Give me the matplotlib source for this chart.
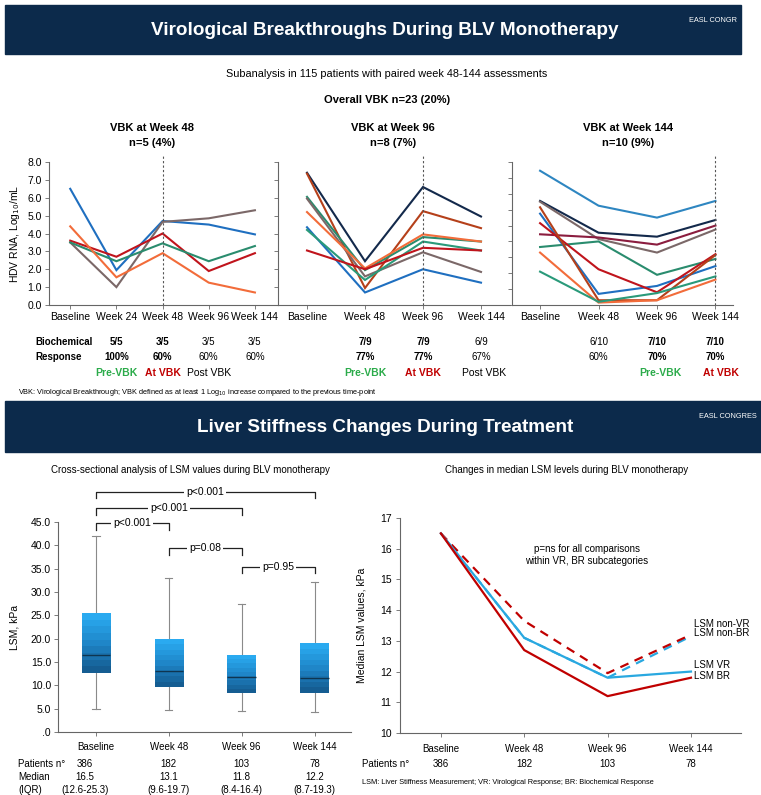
import numpy as np
import matplotlib.pyplot as plt
from matplotlib.patches import Rectangle
from matplotlib.colors import LinearSegmentedColormap
from matplotlib.ticker import FuncFormatter
from matplotlib.transforms import blended_transform_factory

plt.rcParams['font.family'] = ['Liberation Sans', 'DejaVu Sans']

W, H = 761, 795


def fx(px):
    return px / W


def fy(py):
    return 1 - py / H


# ---------------- data: virological breakthroughs ----------------
cats_w48 = ["Baseline", "Week 24", "Week 48", "Week 96", "Week 144"]
w48_blue = [6.5, 1.95, 4.7, 4.5, 3.95]
w48_grey = [3.5, 1.0, 4.65, 4.85, 5.3]
w48_red = [3.6, 2.7, 4.0, 1.9, 2.9]
w48_green = [3.5, 2.45, 3.45, 2.45, 3.3]
w48_orange = [4.4, 1.55, 2.9, 1.25, 0.7]

cats_w96 = ["Baseline", "Week 48", "Week 96", "Week 144"]
w96_navy = [7.4, 2.45, 6.6, 4.95]
w96_brown = [7.35, 0.95, 5.25, 4.3]
w96_green = [6.05, 1.95, 3.8, 3.55]
w96_grey = [5.95, 1.6, 2.95, 1.85]
w96_orange = [5.2, 2.05, 3.95, 3.55]
w96_blue = [4.35, 0.7, 2.0, 1.25]
w96_green2 = [4.2, 1.4, 3.55, 3.05]
w96_red = [3.05, 2.0, 3.2, 3.05]

cats_w144 = ["Baseline", "Week 48", "Week 96", "Week 144"]
w144_lblue = [8.45, 6.25, 5.5, 6.55]
w144_navy = [6.55, 4.55, 4.3, 5.35]
w144_grey = [6.5, 4.15, 3.3, 4.75]
w144_maroon = [4.45, 4.25, 3.8, 5.0]
w144_green = [3.65, 4.0, 1.9, 2.9]
w144_blue = [5.75, 0.7, 1.2, 2.45]
w144_red = [5.15, 2.25, 0.8, 3.2]
w144_brown = [6.15, 0.3, 0.3, 3.15]
w144_orange = [3.3, 0.15, 0.3, 1.6]
w144_green2 = [2.1, 0.2, 0.75, 1.8]

bio_w48 = [("5/5", "100%", True), ("3/5", "60%", True), ("3/5", "60%", False), ("3/5", "60%", False)]
bio_w96 = [("7/9", "77%", True), ("7/9", "77%", True), ("6/9", "67%", False)]
bio_w144 = [("6/10", "60%", False), ("7/10", "70%", True), ("7/10", "70%", True)]

# ---------------- data: liver stiffness ----------------
lsm_cats = ["Baseline", "Week 48", "Week 96", "Week 144"]
lsm_med = [16.5, 13.1, 11.8, 11.5]
lsm_q1 = [12.6, 9.6, 8.4, 8.4]
lsm_q3 = [25.3, 19.7, 16.4, 19.1]
lsm_lo = [5.0, 4.8, 4.6, 4.2]
lsm_hi = [42.0, 33.1, 27.4, 32.1]
patients = ["386", "182", "103", "78"]
median_txt = ["16.5", "13.1", "11.8", "12.2"]
iqr_txt = ["(12.6-25.3)", "(9.6-19.7)", "(8.4-16.4)", "(8.7-19.3)"]

lsm_br = [16.5, 12.7, 11.2, 11.8]
lsm_vr = [16.5, 13.1, 11.8, 12.0]
lsm_nonbr = [16.5, 13.65, 11.95, 13.2]
lsm_nonvr = [16.5, 13.1, 11.8, 13.15]

NAVY = '#0c2a4b'
GREEN_T = '#2bab4a'
RED_T = '#c00000'

fig = plt.figure(figsize=(W / 100, H / 100), dpi=100)

# banners
for (x0, y0, x1, y1, title, logo) in [(5, 5, 741, 54, "Virological Breakthroughs During BLV Monotherapy", "EASL CONGR"),
                                       (5, 401, 761, 452, "Liver Stiffness Changes During Treatment", "EASL CONGRES")]:
    fig.patches.append(Rectangle((fx(x0), fy(y1)), fx(x1 - x0), (y1 - y0) / H,
                                 transform=fig.transFigure, color=NAVY, zorder=0))
    fig.text(fx(385), fy((y0 + y1) / 2 + 1), title, color='white', fontsize=13.6, fontweight='bold',
             ha='center', va='center')
    fig.text(fx(x1 - 4), fy(y0 + 16), logo, color='white', fontsize=5.3, ha='right', va='center')

fig.text(fx(387), fy(74), "Subanalysis in 115 patients with paired week 48-144 assessments",
         fontsize=7.8, ha='center', va='center')
fig.text(fx(387), fy(100), "Overall VBK n=23 (20%)", fontsize=8, fontweight='bold', ha='center', va='center')


def vbk_axes(rect, cats, series, colors, xlim, ylim, vline, labels=False):
    ax = fig.add_axes(rect)
    x = np.arange(len(cats))
    for s, c in zip(series, colors):
        ax.plot(x, s, color=c, lw=1.5, solid_joinstyle='miter')
    ax.axvline(vline, ymin=0, ymax=1.04, color='#555555', lw=0.8, ls=(0, (2, 2)), clip_on=False)
    ax.set_xlim(*xlim)
    ax.set_ylim(*ylim)
    ax.set_xticks(x)
    ax.set_xticklabels(cats, fontsize=7.5)
    ax.set_yticks(np.arange(0, ylim[1] + 0.01, 1))
    if labels:
        ax.set_yticklabels([f"{v:.1f}" for v in np.arange(0, ylim[1] + 0.01, 1)], fontsize=7.5)
    else:
        ax.set_yticklabels([])
    ax.tick_params(axis='both', length=3, width=0.6, color='#666666', pad=2)
    for sp in ['top', 'right']:
        ax.spines[sp].set_visible(False)
    for sp in ['left', 'bottom']:
        ax.spines[sp].set_color('#666666')
        ax.spines[sp].set_linewidth(0.8)
    return ax


ax1 = vbk_axes([fx(49), fy(305), fx(229), 143 / H], cats_w48,
               [w48_blue, w48_grey, w48_red, w48_green, w48_orange],
               ['#1f6fc0', '#7b6868', '#c0141c', '#2a8c6e', '#f26c3a'],
               (-0.46, 4.5), (0, 8), 2, labels=True)
ax1.set_ylabel("HDV RNA, Log$_{10}$/mL", fontsize=7.5, labelpad=4)

ax2 = vbk_axes([fx(278), fy(305), fx(232), 143 / H], cats_w96,
               [w96_navy, w96_brown, w96_green, w96_grey, w96_orange, w96_blue, w96_green2, w96_red],
               ['#13294b', '#b5401a', '#2a8c6e', '#7b6868', '#f26c3a', '#1f6fc0', '#2a9a7a', '#c0141c'],
               (-0.5, 3.5), (0, 8), 2)

ax3 = vbk_axes([fx(512), fy(305), fx(221), 143 / H], cats_w144,
               [w144_lblue, w144_navy, w144_grey, w144_maroon, w144_green, w144_blue, w144_red,
                w144_brown, w144_orange, w144_green2],
               ['#2e86c1', '#13294b', '#7b6868', '#8b1d3f', '#2a8c6e', '#1f6fc0', '#c0141c',
                '#b5401a', '#f26c3a', '#2a9a7a'],
               (-0.48, 3.3), (0, 9), 3)

for cx, t1, t2 in [(152, "VBK at Week 48", "n=5 (4%)"), (393, "VBK at Week 96", "n=8 (7%)"),
                   (628, "VBK at Week 144", "n=10 (9%)")]:
    fig.text(fx(cx), fy(128), t1, fontsize=8, fontweight='bold', ha='center', va='center')
    fig.text(fx(cx), fy(143), t2, fontsize=8, fontweight='bold', ha='center', va='center')

fig.text(fx(35), fy(342), "Biochemical", fontsize=7, fontweight='bold', ha='left', va='center')
fig.text(fx(35), fy(357), "Response", fontsize=7, fontweight='bold', ha='left', va='center')

for ax, bio in [(ax1, bio_w48), (ax2, bio_w96), (ax3, bio_w144)]:
    tr = blended_transform_factory(ax.transData, fig.transFigure)
    for i, (a, b, bold) in enumerate(bio):
        fw = 'bold' if bold else 'normal'
        ax.text(1 + i, fy(342), a, transform=tr, fontsize=7, fontweight=fw, ha='center', va='center')
        ax.text(1 + i, fy(357), b, transform=tr, fontsize=7, fontweight=fw, ha='center', va='center')

for ax, labels in [(ax1, [(1, "Pre-VBK", GREEN_T), (2, "At VBK", RED_T), (3, "Post VBK", 'black')]),
                   (ax2, [(1, "Pre-VBK", GREEN_T), (2, "At VBK", RED_T), (3.05, "Post VBK", 'black')]),
                   (ax3, [(2.05, "Pre-VBK", GREEN_T), (3.1, "At VBK", RED_T)])]:
    tr = blended_transform_factory(ax.transData, fig.transFigure)
    for xv, t, c in labels:
        ax.text(xv, fy(373), t, transform=tr, fontsize=7.5, color=c,
                fontweight='normal' if c == 'black' else 'bold', ha='center', va='center')

fig.text(fx(18), fy(392), "VBK: Virological Breakthrough; VBK defined as at least 1 Log$_{10}$ increase "
         "compared to the previous time-point", fontsize=5.3, ha='left', va='center')

# ---------------- box plot ----------------
fig.text(fx(190), fy(470), "Cross-sectional analysis of LSM values during BLV monotherapy",
         fontsize=7, ha='center', va='center')
axb = fig.add_axes([fx(58), fy(732), fx(293), 210 / H])
stats = [dict(med=m, q1=a, q3=b, whislo=lo, whishi=hi, label=c)
         for m, a, b, lo, hi, c in zip(lsm_med, lsm_q1, lsm_q3, lsm_lo, lsm_hi, lsm_cats)]
bw = 0.39
axb.bxp(stats, positions=range(4), widths=bw, showfliers=False, patch_artist=True,
        boxprops=dict(facecolor='none', edgecolor='none'),
        medianprops=dict(color='#0f3550', lw=1.0, zorder=4),
        whiskerprops=dict(color='#8a8a8a', lw=0.8),
        capprops=dict(color='#8a8a8a', lw=0.8), capwidths=0.1)
cmap = LinearSegmentedColormap.from_list('boxg', ['#155d92', '#1f86c8', '#2aaaf0'])
grad = np.linspace(0, 1, 9).reshape(-1, 1)
for i, (a, b) in enumerate(zip(lsm_q1, lsm_q3)):
    axb.imshow(grad, extent=[i - bw / 2, i + bw / 2, a, b], origin='lower', cmap=cmap,
               aspect='auto', interpolation='nearest', zorder=3)
axb.set_xlim(-0.52, 3.5)
axb.set_ylim(0, 45)
axb.set_yticks(np.arange(0, 46, 5))
axb.yaxis.set_major_formatter(FuncFormatter(lambda v, _: ".0" if v == 0 else f"{v:.1f}"))
axb.set_xticks(range(4))
axb.set_xticklabels(lsm_cats)
axb.tick_params(axis='y', labelsize=7.5, length=3, width=0.6, color='#666666', pad=2)
axb.tick_params(axis='x', labelsize=7, length=3, width=0.6, color='#666666', pad=4)
axb.set_ylabel("LSM, kPa", fontsize=7.5, labelpad=8)
for sp in ['top', 'right']:
    axb.spines[sp].set_visible(False)
for sp in ['left', 'bottom']:
    axb.spines[sp].set_color('#666666')
    axb.spines[sp].set_linewidth(0.8)

for a, b, txt, yl in [(0, 3, "p<0.001", 51.5), (0, 2, "p<0.001", 48.0), (0, 1, "p<0.001", 44.7),
                      (1, 2, "p=0.08", 39.4), (2, 3, "p=0.95", 35.4)]:
    axb.plot([a, a, b, b], [yl - 1.4, yl, yl, yl - 1.4], color='#222222', lw=0.9, clip_on=False)
    axb.text((a + b) / 2, yl, txt, fontsize=7.5, ha='center', va='center', clip_on=False,
             bbox=dict(facecolor='white', edgecolor='none', pad=1.5))

tr = blended_transform_factory(axb.transData, fig.transFigure)
fig.text(fx(18), fy(764), "Patients n°", fontsize=7, ha='left', va='center')
fig.text(fx(18), fy(777), "Median", fontsize=7, ha='left', va='center')
fig.text(fx(18), fy(790), "(IQR)", fontsize=7, ha='left', va='center')
for i in range(4):
    xv = i - 0.15 if i == 0 else i
    axb.text(xv, fy(764), patients[i], transform=tr, fontsize=7, ha='center', va='center')
    axb.text(xv, fy(777), median_txt[i], transform=tr, fontsize=7, ha='center', va='center')
    axb.text(xv, fy(790), iqr_txt[i], transform=tr, fontsize=7, ha='center', va='center')

# ---------------- median LSM lines ----------------
fig.text(fx(567), fy(470), "Changes in median LSM levels during BLV monotherapy",
         fontsize=7, ha='center', va='center')
axl = fig.add_axes([fx(400), fy(733), fx(341), 215 / H])
xl = np.arange(4)
axl.plot(xl, lsm_nonvr, color='#29a8e0', lw=1.6, ls=(3, (4, 3)))
axl.plot(xl, lsm_nonbr, color='#c00000', lw=1.6, ls=(0, (4, 3)))
axl.plot(xl, lsm_vr, color='#29a8e0', lw=1.6)
axl.plot(xl, lsm_br, color='#c00000', lw=1.6)
axl.set_xlim(-0.49, 3.6)
axl.set_ylim(10, 17)
axl.set_yticks(range(10, 18))
axl.set_xticks(xl)
axl.set_xticklabels(lsm_cats)
axl.tick_params(axis='y', labelsize=7.5, length=3, width=0.6, color='#666666', pad=3)
axl.tick_params(axis='x', labelsize=7, length=3, width=0.6, color='#666666', pad=5)
axl.set_ylabel("Median LSM values, kPa", fontsize=7.5, labelpad=10)
for sp in ['top', 'right']:
    axl.spines[sp].set_visible(False)
for sp in ['left', 'bottom']:
    axl.spines[sp].set_color('#666666')
    axl.spines[sp].set_linewidth(0.8)
axl.text(1.75, 15.98, "p=ns for all comparisons", fontsize=7, ha='center', va='center')
axl.text(1.75, 15.6, "within VR, BR subcategories", fontsize=7, ha='center', va='center')
for yv, t in [(13.55, "LSM non-VR"), (13.25, "LSM non-BR"), (12.2, "LSM VR"), (11.87, "LSM BR")]:
    axl.text(3.04, yv, t, fontsize=7, ha='left', va='center')

trl = blended_transform_factory(axl.transData, fig.transFigure)
fig.text(fx(362), fy(764), "Patients n°", fontsize=7, ha='left', va='center')
for i in range(4):
    axl.text(i, fy(764), patients[i], transform=trl, fontsize=7, ha='center', va='center')
fig.text(fx(362), fy(783), "LSM: Liver Stiffness Measurement; VR: Virological Response; BR: Biochemical Response",
         fontsize=5.3, ha='left', va='center')

fig.savefig("out.png", dpi=100)
